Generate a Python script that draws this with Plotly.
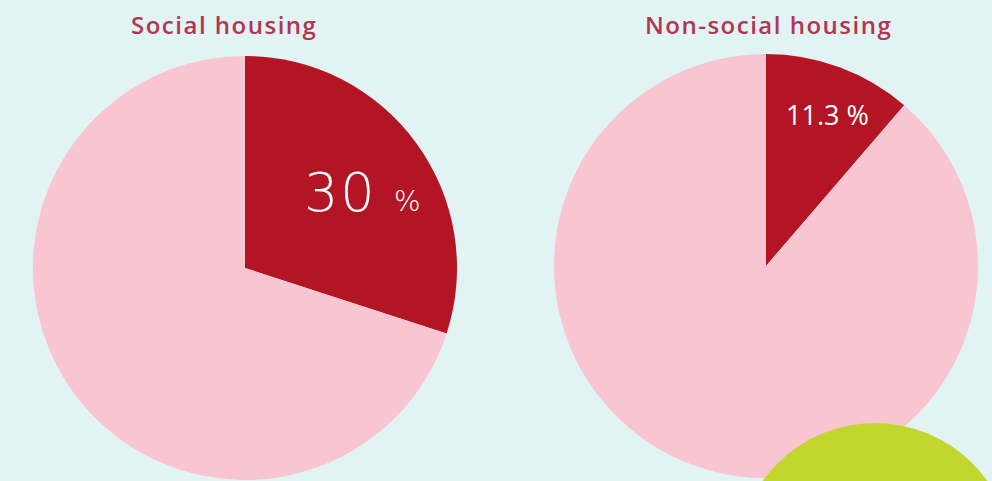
import plotly.graph_objects as go

titles = ["Social housing", "Non-social housing"]
share_pct = [30.0, 11.3]
label_text = ["30", "11.3"]
segments = ["In category", "Other"]

BG = "#e2f3f3"
DARK = "#b31524"
PINK = "#f8c5d1"
TITLE_C = "#b3354f"
GREEN = "#c1d72e"

W, H = 992, 481

def px_dom(cx, cy, r):
    return dict(x=[(cx - r) / W, (cx + r) / W], y=[1 - (cy + r) / H, 1 - (cy - r) / H])

centers = [(245, 268), (766, 266)]
R = 212

fig = go.Figure()
for i, (t, v) in enumerate(zip(titles, share_pct)):
    cx, cy = centers[i]
    fig.add_trace(go.Pie(
        labels=segments, values=[v, 100 - v],
        marker=dict(colors=[DARK, PINK], line=dict(width=0)),
        sort=False, direction="clockwise", rotation=0,
        textinfo="none", hoverinfo="label+percent",
        domain=px_dom(cx, cy, R), showlegend=False,
    ))

def ann(text, x, y, size, color, family, weight=400):
    return dict(text=text, x=x / W, y=1 - y / H, xref="paper", yref="paper",
                xanchor="center", yanchor="middle", showarrow=False,
                font=dict(size=size, color=color, family=family, weight=weight))

def spaced(s, px):
    return "<span style='letter-spacing:%.1fpx'>%s</span>" % (px, s)

annotations = [
    ann(spaced(titles[0], 1.5), 224, 25, 24, TITLE_C, "Open Sans", 600),
    ann(spaced(titles[1], 1.5), 768, 25, 24, TITLE_C, "Open Sans", 600),
    ann(spaced(label_text[0], 2) + " <span style='font-size:28px'>%</span>", 362, 193, 54, "white",
        "DejaVu Sans ExtraLight, DejaVu Sans", 200),
    ann(label_text[1] + " %", 827, 114, 27, "white", "Open Sans", 400),
]

fig.update_layout(
    width=W, height=H,
    margin=dict(l=0, r=0, t=0, b=0),
    paper_bgcolor=BG, plot_bgcolor=BG,
    annotations=annotations,
    shapes=[dict(type="circle", xref="paper", yref="paper",
                 x0=(875 - 138) / W, x1=(875 + 138) / W,
                 y0=1 - (561 + 138) / H, y1=1 - (561 - 138) / H,
                 fillcolor=GREEN, line=dict(width=0), layer="above")],
)

fig.write_html("out.html")
